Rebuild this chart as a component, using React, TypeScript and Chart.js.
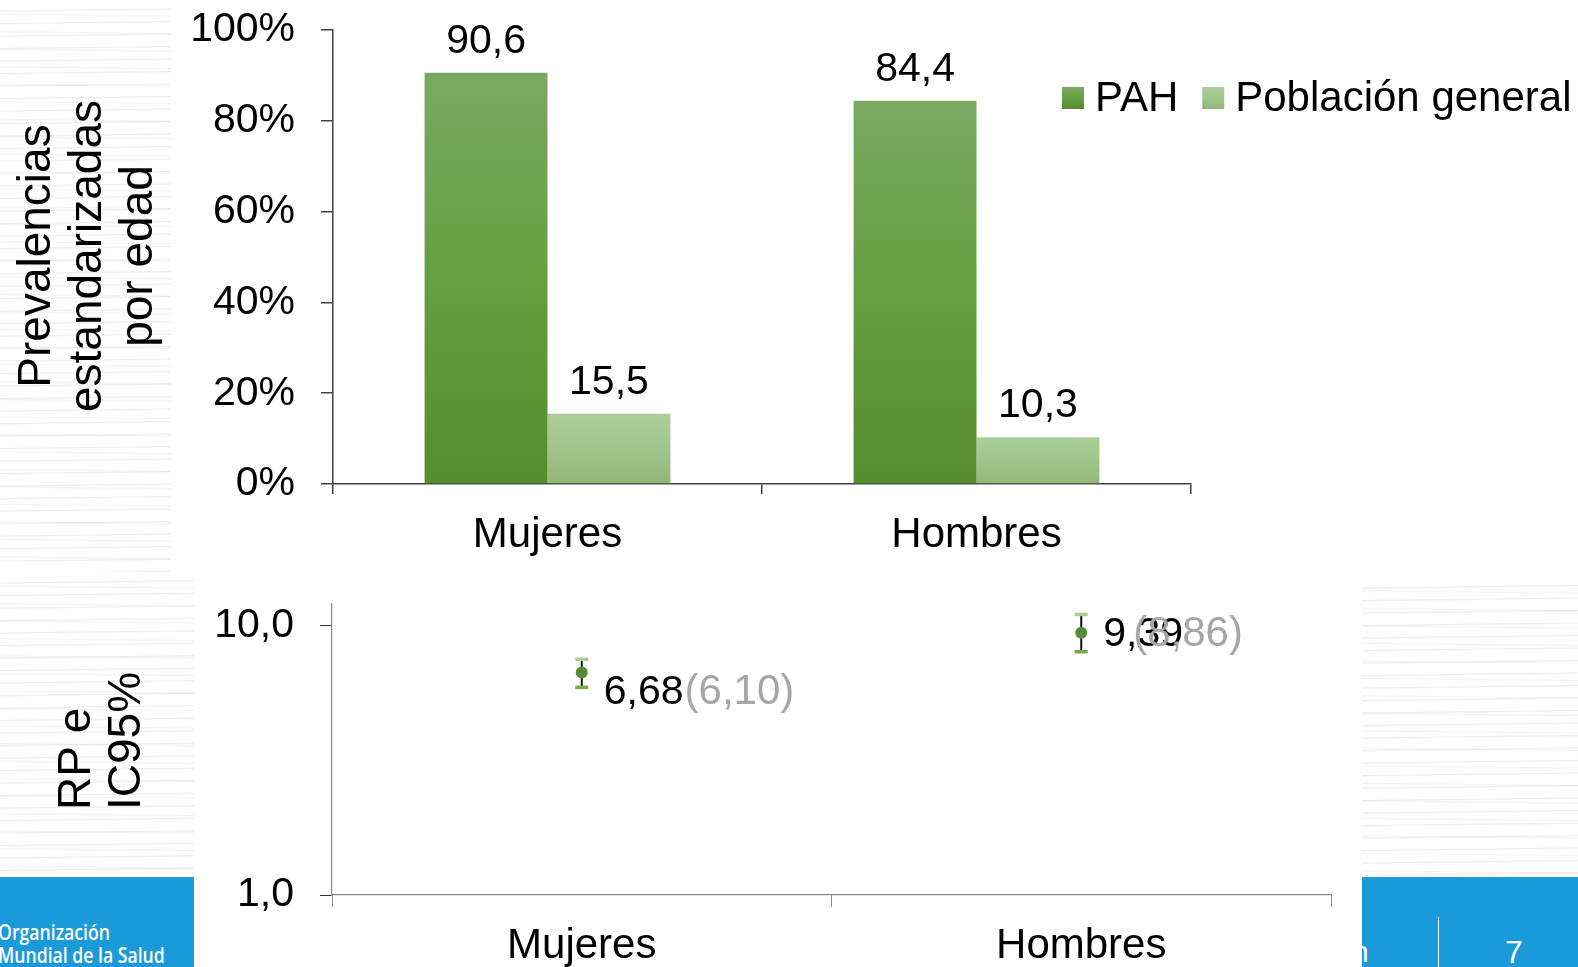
import React, { useEffect, useRef } from "react";
import { Chart, registerables } from "chart.js";

Chart.register(...registerables);

// ---------- data ----------
const topCategories = ["Mujeres", "Hombres"];
const seriesNames = ["PAH", "Población general"];
const pahValues = [90.6, 84.4];
const poblacionValues = [15.5, 10.3];
const percentTicks = [0, 20, 40, 60, 80, 100];
const topTitle = ["Prevalencias", "estandarizadas", "por edad"];

const rpCategories = ["Mujeres", "Hombres"];
const rpValues = [6.68, 9.39];
const ciLow = [5.9, 8.0];
const ciHigh = [7.5, 11.0];
const ciLabels = ["(6,10)", "(8,86)"];
const rpTicks = [1, 10];
const bottomTitle = ["RP e", "IC95%"];

// ---------- styles ----------
const FONT = '"Liberation Sans", Arial, Helvetica, sans-serif';
const PAH_STOPS = ["#7aa862", "#659f40", "#568b2e"];
const POB_STOPS = ["#abce98", "#a0c58a", "#90b679"];
const AXIS_TOP = "#404040";
const AXIS_BOTTOM = "#8a8a8a";
const BLUE = "#1a9ad9";
const BOTTOM_TOP = 575;
const fmt = (v: number, d: number) => v.toFixed(d).replace(".", ",");

function barGradient(stops: string[]) {
  return (context: any) => {
    const chart = context.chart;
    const area = chart.chartArea;
    if (!area || context.type !== "data") return stops[1];
    const y = chart.scales.y;
    const top = y.getPixelForValue(context.raw);
    const bottom = y.getPixelForValue(0);
    const g = chart.ctx.createLinearGradient(0, top, 0, bottom + 0.01);
    stops.forEach((c, i) => g.addColorStop(i / (stops.length - 1), c));
    return g;
  };
}

function drawRotatedLines(ctx: CanvasRenderingContext2D, lines: string[], x: number, y: number, lh: number, align: CanvasTextAlign, size: number) {
  ctx.save();
  ctx.translate(x, y);
  ctx.rotate(-Math.PI / 2);
  ctx.font = `${size}px ${FONT}`;
  ctx.fillStyle = "#000";
  ctx.textAlign = align;
  ctx.textBaseline = "middle";
  lines.forEach((l, i) => ctx.fillText(l, 0, i * lh));
  ctx.restore();
}

const topPlugin = {
  id: "topDecor",
  afterDatasetsDraw(chart: any) {
    const ctx = chart.ctx as CanvasRenderingContext2D;
    // value labels
    ctx.save();
    ctx.font = `41px ${FONT}`;
    ctx.fillStyle = "#000";
    ctx.textAlign = "center";
    ctx.textBaseline = "alphabetic";
    chart.data.datasets.forEach((ds: any, di: number) => {
      const meta = chart.getDatasetMeta(di);
      meta.data.forEach((bar: any, i: number) => {
        ctx.fillText(fmt(ds.data[i], 1), bar.x, bar.y - 20);
      });
    });
    // legend
    let x = 1062;
    const yc = 98;
    ctx.font = `42px ${FONT}`;
    ctx.textAlign = "left";
    ctx.textBaseline = "middle";
    const stopsList = [PAH_STOPS, POB_STOPS];
    chart.data.datasets.forEach((ds: any, di: number) => {
      const g = ctx.createLinearGradient(0, yc - 11, 0, yc + 11);
      stopsList[di].forEach((c, i) => g.addColorStop(i / (stopsList[di].length - 1), c));
      ctx.fillStyle = g;
      ctx.fillRect(x, yc - 11, 22, 22);
      x += 33;
      ctx.fillStyle = "#000";
      ctx.fillText(ds.label, x, yc + 1);
      x += ctx.measureText(ds.label).width + 24;
    });
    ctx.restore();
    // axis title
    drawRotatedLines(ctx, topTitle, 37, 256, 51, "center", 46);
  },
};

const bottomPlugin = {
  id: "bottomDecor",
  beforeDatasetsDraw(chart: any) {
    const ctx = chart.ctx as CanvasRenderingContext2D;
    const y = chart.scales.y;
    const meta = chart.getDatasetMeta(0);
    ctx.save();
    meta.data.forEach((pt: any, i: number) => {
      const yl = y.getPixelForValue(ciLow[i]);
      const yh = y.getPixelForValue(ciHigh[i]);
      ctx.strokeStyle = "#111";
      ctx.lineWidth = 2;
      ctx.beginPath();
      ctx.moveTo(pt.x, yh);
      ctx.lineTo(pt.x, yl);
      ctx.stroke();
      ctx.fillStyle = "#a9d18e";
      ctx.fillRect(pt.x - 6.5, yh - 1.5, 13, 3.5);
      ctx.fillStyle = "#70ad47";
      ctx.fillRect(pt.x - 6.5, yl - 1.5, 13, 3.5);
    });
    ctx.restore();
  },
  afterDatasetsDraw(chart: any) {
    const ctx = chart.ctx as CanvasRenderingContext2D;
    const meta = chart.getDatasetMeta(0);
    const labelDy = [20, 2];
    const ciDx = [-1, 30];
    ctx.save();
    ctx.font = `41px ${FONT}`;
    ctx.textAlign = "left";
    ctx.textBaseline = "middle";
    meta.data.forEach((pt: any, i: number) => {
      const x0 = pt.x + 22;
      const yc = pt.y + labelDy[i];
      const txt = fmt(rpValues[i], 2);
      ctx.fillStyle = "#000";
      ctx.fillText(txt, x0, yc);
      const w = ctx.measureText(txt).width;
      ctx.fillStyle = "#a6a6a6";
      ctx.font = `42px ${FONT}`;
      ctx.fillText(ciLabels[i], ciDx[i] < 0 ? x0 + w + 1 : x0 + ciDx[i], yc);
      ctx.font = `41px ${FONT}`;
    });
    ctx.restore();
    drawRotatedLines(ctx, bottomTitle, 77, 810 - BOTTOM_TOP, 50, "left", 46);
  },
};

function TopChart() {
  const ref = useRef<HTMLCanvasElement>(null);
  useEffect(() => {
    const chart = new Chart(ref.current!, {
      type: "bar",
      data: {
        labels: topCategories,
        datasets: [
          { label: seriesNames[0], data: pahValues, backgroundColor: barGradient(PAH_STOPS) as any, borderWidth: 0, categoryPercentage: 0.573, barPercentage: 1 },
          { label: seriesNames[1], data: poblacionValues, backgroundColor: barGradient(POB_STOPS) as any, borderWidth: 0, categoryPercentage: 0.573, barPercentage: 1 },
        ],
      },
      options: {
        animation: false,
        responsive: false,
        maintainAspectRatio: false,
        layout: { padding: { top: 30, right: 387, left: 0, bottom: 0 } },
        plugins: { legend: { display: false }, tooltip: { enabled: false } },
        scales: {
          x: {
            grid: { display: true, drawOnChartArea: false, drawTicks: true, tickLength: 10, color: AXIS_TOP, lineWidth: 1.5, offset: true },
            border: { color: AXIS_TOP, width: 1.5 },
            ticks: { font: { size: 42, family: FONT }, color: "#000", padding: 16 },
            afterFit: (s: any) => { s.height = 86; s.paddingLeft = 0; s.paddingRight = 0; },
          },
          y: {
            min: 0,
            max: 100,
            afterBuildTicks: (s: any) => { s.ticks = percentTicks.map((v) => ({ value: v })); },
            ticks: { callback: (v: any) => `${v}%`, font: { size: 41, family: FONT }, color: "#000", padding: 26 },
            grid: { drawOnChartArea: false, tickLength: 12, color: AXIS_TOP, lineWidth: 1.5 },
            border: { color: AXIS_TOP, width: 1.5 },
            afterFit: (s: any) => { s.width = 333; s.paddingTop = 0; s.paddingBottom = 0; },
          },
        },
      },
      plugins: [topPlugin],
    });
    return () => chart.destroy();
  }, []);
  return <canvas ref={ref} width={1578} height={570} style={{ position: "absolute", left: 0, top: 0, display: "block" }} />;
}

function BottomChart() {
  const ref = useRef<HTMLCanvasElement>(null);
  useEffect(() => {
    const chart = new Chart(ref.current!, {
      type: "line",
      data: {
        labels: rpCategories,
        datasets: [
          { label: "RP", data: rpValues, showLine: false, pointRadius: 6, pointBackgroundColor: "#5a8a36", pointBorderWidth: 0, pointHoverRadius: 6 },
        ],
      },
      options: {
        animation: false,
        responsive: false,
        maintainAspectRatio: false,
        layout: { padding: { top: 29, right: 247, left: 0, bottom: 0 } },
        plugins: { legend: { display: false }, tooltip: { enabled: false } },
        scales: {
          x: {
            type: "category",
            offset: true,
            grid: { display: true, offset: true, drawOnChartArea: false, tickLength: 12, color: AXIS_BOTTOM },
            border: { color: AXIS_BOTTOM, width: 1.2 },
            ticks: { font: { size: 42, family: FONT }, color: "#000", padding: 14 },
            afterFit: (s: any) => { s.height = 76; s.paddingLeft = 0; s.paddingRight = 0; },
          },
          y: {
            type: "logarithmic",
            min: 1,
            max: 12,
            afterBuildTicks: (s: any) => { s.ticks = rpTicks.map((v) => ({ value: v })); },
            ticks: { callback: (v: any) => fmt(Number(v), 1), font: { size: 41, family: FONT }, color: "#000", padding: 26 },
            grid: { drawOnChartArea: false, tickLength: 12, color: "#333" },
            border: { color: AXIS_BOTTOM, width: 1.2 },
            afterFit: (s: any) => { s.width = 332; s.paddingTop = 0; s.paddingBottom = 0; },
          },
        },
      },
      plugins: [bottomPlugin],
    });
    return () => chart.destroy();
  }, []);
  return <canvas ref={ref} width={1578} height={396} style={{ position: "absolute", left: 0, top: BOTTOM_TOP, display: "block" }} />;
}

const texture: React.CSSProperties = {
  position: "absolute",
  backgroundColor: "#ffffff",
  backgroundImage:
    "repeating-linear-gradient(179.3deg, rgba(255,255,255,0) 0px, rgba(255,255,255,0) 10px, rgba(215,215,215,0.45) 11px, rgba(255,255,255,0) 12.5px), repeating-linear-gradient(180.6deg, rgba(255,255,255,0) 0px, rgba(255,255,255,0) 15px, rgba(220,220,220,0.35) 16px, rgba(255,255,255,0) 17.5px)",
};

export default function App() {
  useEffect(() => {
    document.body.style.margin = "0";
  }, []);
  return (
    <div style={{ position: "fixed", left: 0, top: 0, width: 1578, height: 967, overflow: "hidden", background: "#fff" }}>
      <div style={{ ...texture, left: 0, top: 0, width: 171, height: 572 }} />
      <div style={{ ...texture, left: 0, top: 572, width: 194, height: 305 }} />
      <div style={{ ...texture, left: 1362, top: 577, width: 216, height: 300 }} />
      <div style={{ position: "absolute", left: 0, top: 877, width: 194, height: 90, background: BLUE, overflow: "hidden" }}>
        <div style={{ position: "absolute", left: -2, top: 44, color: "#fff", fontFamily: '"Open Sans", sans-serif', fontWeight: 600, fontSize: 21, lineHeight: "23px", transform: "scaleX(0.84)", transformOrigin: "left top", whiteSpace: "nowrap" }}>
          Organización<br />Mundial de la Salud
        </div>
      </div>
      <div style={{ position: "absolute", left: 1362, top: 877, width: 216, height: 90, background: BLUE, overflow: "hidden" }}>
        <div style={{ position: "absolute", left: -10, top: 58, color: "#fff", fontFamily: FONT, fontSize: 30, lineHeight: "34px" }}>n</div>
        <div style={{ position: "absolute", left: 76, top: 40, width: 1, height: 60, background: "#fff" }} />
        <div style={{ position: "absolute", left: 143, top: 58, color: "#fff", fontFamily: FONT, fontSize: 32, lineHeight: "34px" }}>7</div>
      </div>
      <TopChart />
      <BottomChart />
    </div>
  );
}
